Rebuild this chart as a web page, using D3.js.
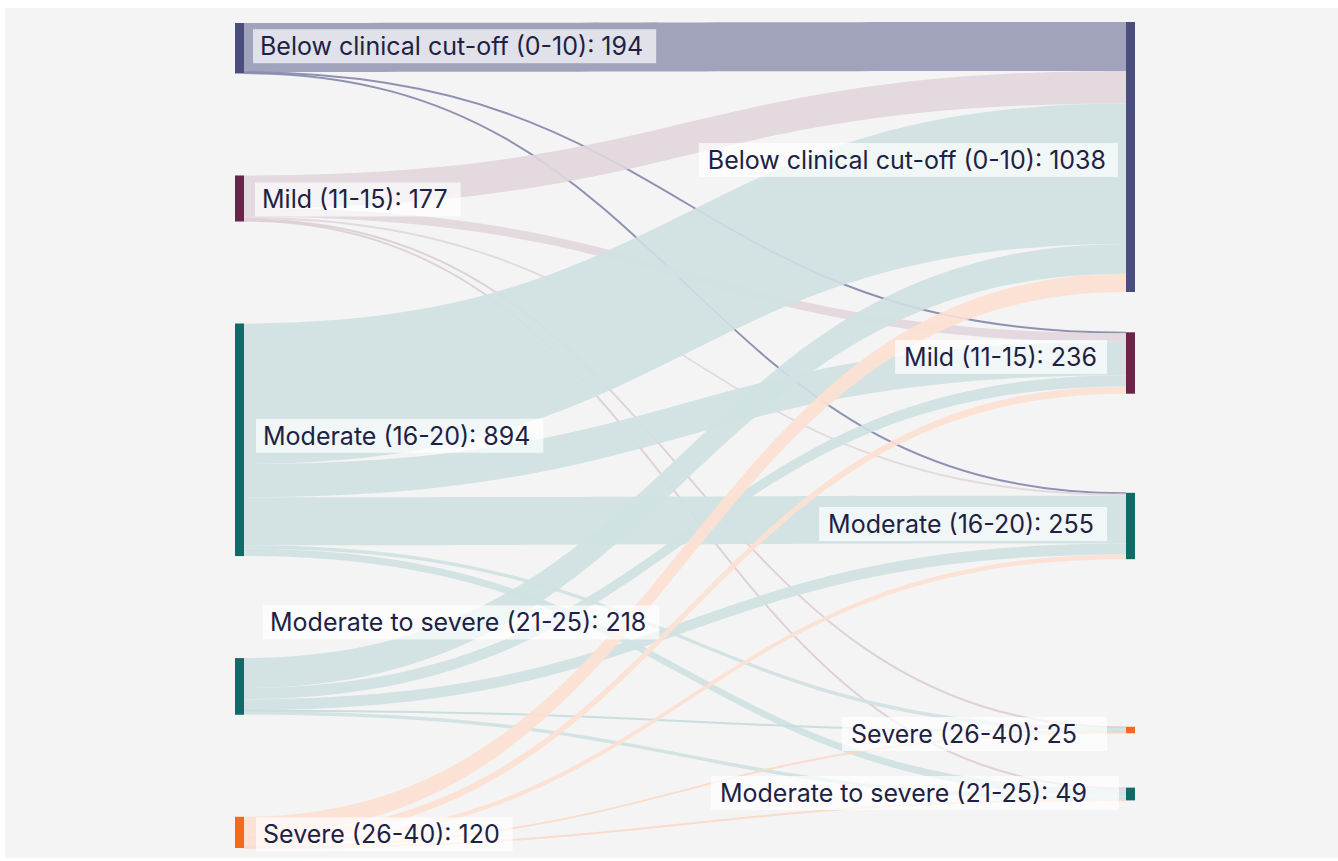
<!DOCTYPE html>
<html>
<head>
<meta charset="utf-8">
<script src="https://cdn.jsdelivr.net/npm/d3@7"></script>
<style>
  html, body { margin: 0; padding: 0; background: #fff; }
  svg { display: block; }
  .lbl { font-family: Inter, "Open Sans", sans-serif; font-size: 25px; fill: #1d2244; }
</style>
</head>
<body>
<svg id="chart" width="1338" height="861"></svg>
<script>
// ---- data ----
const categories = [
  "Below clinical cut-off (0-10)",
  "Mild (11-15)",
  "Moderate (16-20)",
  "Moderate to severe (21-25)",
  "Severe (26-40)",
];
const beforeTotals = [194, 177, 894, 218, 120];
const afterTotals = [1038, 236, 255, 49, 25];
// flows[from][to], both in category order
const flows = [
  [188, 3, 3, 0, 0],
  [125, 34, 8, 6, 4],
  [540, 128, 184, 28, 14],
  [115, 43, 42, 14, 4],
  [70, 28, 18, 1, 3],
];

// ---- look ----
const nodeColors = ["#4b4d7f", "#6b2447", "#0e6b67", "#0e6b67", "#f26b1d"];
const linkColors = ["#9c9db8", "#e1d6dc", "#cfe1e1", "#cfe1e1", "#fde0d1"];
const thinColors = ["#8a8bae", "#dccdd5", "#c6dcdc", "#c6dcdc", "#fbd9c7"];
const linkOpacity = [0.95, 0.9, 0.9, 0.9, 0.9];

// ---- layout options (like plotly's node.y / pad) ----
const L = { top: 23, bottom: 848, pad: 102, xLeft: 235, xRight: 1126, nodeW: 9 };
// right column is placed by hand (centre y of each node)
const afterCenters = [157, 363, 526, 794, 730];
const leftLabel = [
  { dx: 16, dy: -2 }, { dx: 18, dy: 1 }, { dx: 19, dy: -4 }, { dx: 26, dy: -64 }, { dx: 19, dy: 2 },
];
const rightLabel = [
  { dx: -20, dy: 3, padR: 12 }, { dx: -29, dy: -6, padR: 10 }, { dx: -32, dy: -2, padR: 13 },
  { dx: -39, dy: -1, padR: 32 }, { dx: -49, dy: 4, padR: 30 },
];

const svg = d3.select("#chart");
svg.append("rect").attr("x", 5).attr("y", 8).attr("width", 1333).attr("height", 850).attr("fill", "#f4f4f4");

const total = d3.sum(beforeTotals);
const k = (L.bottom - L.top - L.pad * (categories.length - 1)) / total;
const h = d3.scaleLinear().domain([0, total]).range([0, total * k]);

let yy = L.top;
const left = categories.map((name, i) => {
  const n = { i, name, value: beforeTotals[i], x0: L.xLeft, x1: L.xLeft + L.nodeW, y0: yy, y1: yy + h(beforeTotals[i]) };
  yy = n.y1 + L.pad;
  return n;
});
const right = categories.map((name, i) => {
  const hh = h(afterTotals[i]);
  const cy = afterCenters[i];
  return { i, name, value: afterTotals[i], x0: L.xRight, x1: L.xRight + L.nodeW, y0: cy - hh / 2, y1: cy + hh / 2 };
});

const links = [];
flows.forEach((row, s) => row.forEach((v, t) => { if (v > 0) links.push({ s, t, value: v }); }));

// stack link ends: at source by target position, at target by source position
for (const n of left) {
  let y = n.y0;
  links.filter((l) => l.s === n.i).sort((a, b) => right[a.t].y0 - right[b.t].y0)
    .forEach((l) => { l.sy0 = y; y += h(l.value); l.sy1 = y; });
}
for (const n of right) {
  let y = n.y0;
  links.filter((l) => l.t === n.i).sort((a, b) => left[a.s].y0 - left[b.s].y0)
    .forEach((l) => { l.ty0 = y; y += h(l.value); l.ty1 = y; });
}

const x0 = L.xLeft + L.nodeW, x1 = L.xRight, xm = (x0 + x1) / 2;
function band(l) {
  const p = d3.path();
  p.moveTo(x0, l.sy0);
  p.bezierCurveTo(xm, l.sy0, xm, l.ty0, x1, l.ty0);
  p.lineTo(x1, l.ty1);
  p.bezierCurveTo(xm, l.ty1, xm, l.sy1, x0, l.sy1);
  p.closePath();
  return p.toString();
}
function strand(l) {
  const a = (l.sy0 + l.sy1) / 2, b = (l.ty0 + l.ty1) / 2;
  const p = d3.path();
  p.moveTo(x0, a);
  p.bezierCurveTo(xm, a, xm, b, x1, b);
  return p.toString();
}

const gl = svg.append("g");
for (const l of links) {
  const w = h(l.value);
  if (w < 2) {
    gl.append("path").attr("d", strand(l)).attr("fill", "none")
      .attr("stroke", thinColors[l.s]).attr("stroke-width", 2)
      .attr("opacity", linkOpacity[l.s]);
  } else {
    gl.append("path").attr("d", band(l)).attr("fill", linkColors[l.s]).attr("opacity", linkOpacity[l.s]);
  }
}

const gn = svg.append("g");
for (const n of [...left, ...right]) {
  gn.append("rect").attr("x", n.x0).attr("y", n.y0).attr("width", n.x1 - n.x0)
    .attr("height", Math.max(1, n.y1 - n.y0)).attr("fill", nodeColors[n.i]);
}

// ---- labels with translucent boxes ----
function label(text, x, cy, anchor, padL, padR) {
  const g = svg.append("g");
  const box = g.append("rect").attr("fill", "#fff").attr("opacity", 0.68);
  const t = g.append("text").attr("class", "lbl").attr("x", x).attr("y", cy).attr("dy", "0.36em")
    .attr("text-anchor", anchor).text(text);
  const bb = t.node().getBBox();
  box.attr("x", bb.x - padL).attr("y", cy - 17).attr("width", bb.width + padL + padR).attr("height", 34);
}
left.forEach((n, i) => label(`${n.name}: ${n.value}`, n.x1 + leftLabel[i].dx, (n.y0 + n.y1) / 2 + leftLabel[i].dy, "start", 7, 13));
right.forEach((n, i) => label(`${n.name}: ${n.value}`, n.x0 + rightLabel[i].dx, (n.y0 + n.y1) / 2 + rightLabel[i].dy, "end", 9, rightLabel[i].padR));
</script>
</body>
</html>
